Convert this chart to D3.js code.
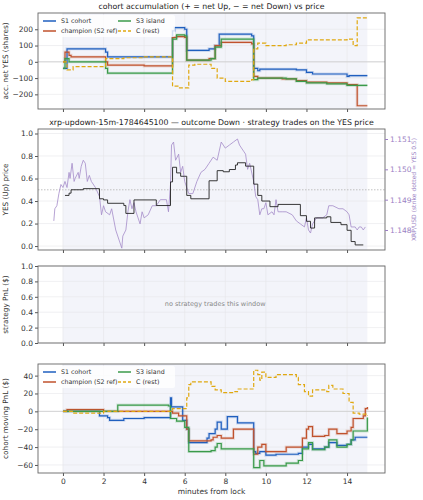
<!DOCTYPE html><html><head><meta charset="utf-8"><script src="https://cdn.jsdelivr.net/npm/d3@7"></script>
<style>body{margin:0;background:#fff}text{font-family:"DejaVu Sans",sans-serif}</style></head><body><svg id="c" width="423" height="500"></svg><script>
const seriesNames=["S1 cohort","champion (S2 ref)","S3 island","C (rest)"];
const colors=["#1f5fbf","#c0522d","#3a9a4a","#e0a810"];
const accS1=[[0,-40],[0.2,80],[2.1,80],[2.1,60],[2.2,30],[5.3,30],[5.4,190],[5.5,210],[6,200],[6.1,70],[7.2,80],[7.5,100],[7.7,170],[9.3,160],[9.4,-40],[9.6,-55],[9.7,-45],[11.5,-50],[12,-65],[12.3,-75],[14,-90],[14.1,-85],[15,-85]];
const accS2=[[0,0],[0.1,60],[0.3,40],[0.4,30],[2,30],[2.1,0],[2.2,-20],[4,-20],[4,-25],[5.3,-25],[5.4,150],[5.6,155],[6,150],[6.1,10],[7.2,20],[7.5,100],[7.8,120],[9.3,110],[9.4,-90],[9.6,-100],[10.8,-105],[11.5,-115],[12,-125],[13,-130],[14,-140],[14.5,-140],[14.5,-270],[15,-270]];
const accS3=[[0,-40],[0.1,20],[0.3,0],[2.1,0],[2.1,-40],[2.2,-70],[5.3,-70],[5.4,140],[5.6,165],[6,160],[6.1,10],[7.3,20],[7.5,90],[7.8,140],[9.3,140],[9.4,-110],[9.6,-100],[11,-105],[11.5,-120],[12,-130],[13,-135],[14,-145],[15,-145]];
const accC=[[0,0],[0.2,-50],[0.5,-30],[2.1,-30],[2.1,20],[3,25],[4,30],[5.3,30],[5.4,-150],[5.7,-160],[6,-160],[6.2,-20],[6.5,-15],[7,-15],[7.3,-40],[7.6,-100],[8,-120],[9.3,-110],[9.4,80],[9.6,115],[10,100],[11,105],[11.5,115],[12,135],[13,135],[14,140],[14.3,100],[14.5,140],[14.5,270],[15,270]];
const yesPrice=[[0.1,0.45],[0.3,0.47],[0.4,0.5],[1,0.51],[1.8,0.51],[1.8,0.42],[2,0.41],[2.2,0.38],[3,0.36],[3.1,0.29],[3.4,0.29],[3.5,0.41],[4.6,0.36],[5.3,0.36],[5.3,0.57],[5.4,0.7],[5.6,0.65],[5.8,0.62],[6,0.62],[6.1,0.45],[6.3,0.42],[7,0.42],[7.2,0.58],[7.6,0.67],[7.9,0.66],[8.2,0.68],[8.5,0.72],[8.6,0.74],[9,0.71],[9.4,0.71],[9.4,0.55],[9.6,0.45],[9.8,0.4],[10,0.4],[10.2,0.35],[10.6,0.37],[11.7,0.37],[11.7,0.27],[12,0.22],[12.2,0.16],[12.4,0.25],[13,0.26],[13.2,0.21],[13.7,0.19],[14,0.14],[14.2,0.04],[14.4,0.01],[14.8,0.01]];
const xrp=[[-0.45,1.1483],[-0.4,1.1487],[-0.3,1.1488],[-0.2,1.1492],[-0.1,1.1495],[0,1.1494],[0.1,1.1496],[0.2,1.1494],[0.3,1.1499],[0.35,1.1497],[0.45,1.1502],[0.55,1.1496],[0.6,1.1497],[0.75,1.1499],[0.8,1.1497],[0.9,1.1501],[1.0,1.1503],[1.1,1.1502],[1.2,1.1496],[1.3,1.1498],[1.4,1.1496],[1.6,1.1494],[1.8,1.1491],[1.9,1.1485],[2.0,1.1488],[2.1,1.1486],[2.3,1.1485],[2.4,1.1487],[2.6,1.148],[2.7,1.1478],[2.8,1.1476],[2.9,1.1474],[2.95,1.1478],[3.1,1.148],[3.2,1.1486],[3.3,1.149],[3.4,1.1487],[3.5,1.1489],[3.6,1.1486],[3.7,1.1484],[3.8,1.1482],[3.9,1.1486],[4.0,1.1484],[4.2,1.1485],[4.4,1.1488],[4.6,1.1488],[4.8,1.149],[5.1,1.149],[5.2,1.1486],[5.3,1.1495],[5.35,1.1508],[5.45,1.1509],[5.55,1.1503],[5.7,1.1505],[5.8,1.1499],[5.9,1.1501],[6.0,1.1496],[6.1,1.1494],[6.2,1.1492],[6.4,1.1492],[6.6,1.1496],[6.8,1.1499],[7.0,1.15],[7.2,1.1502],[7.4,1.1504],[7.6,1.1503],[7.7,1.1506],[7.8,1.1509],[8.0,1.1507],[8.2,1.1508],[8.4,1.1509],[8.6,1.151],[8.7,1.1508],[8.9,1.1506],[9.0,1.1505],[9.1,1.15],[9.2,1.1502],[9.4,1.1496],[9.5,1.1491],[9.6,1.149],[9.7,1.1485],[9.8,1.1487],[9.9,1.1487],[10.0,1.1489],[10.1,1.1485],[10.3,1.1486],[10.4,1.1485],[10.5,1.149],[10.6,1.1486],[10.8,1.1486],[11.0,1.1486],[11.3,1.1485],[11.5,1.1483],[11.7,1.1482],[11.9,1.1481],[12.0,1.1484],[12.1,1.148],[12.2,1.1479],[12.3,1.1482],[12.5,1.1484],[12.8,1.1484],[13.0,1.1485],[13.1,1.1488],[13.3,1.1488],[13.6,1.1487],[13.8,1.1487],[14.0,1.1486],[14.1,1.1485],[14.2,1.1481],[14.4,1.1481],[14.5,1.148],[14.6,1.1481],[14.7,1.1481],[14.8,1.148],[14.9,1.1481]];
const pnlS1=[[0,0],[1.7,0],[1.8,-5],[2.2,-7],[2.3,-10],[3,-8],[4,-7],[5.2,-7],[5.3,15],[5.35,5],[5.7,5],[5.9,-10],[6.1,-20],[6.2,-35],[7.1,-30],[7.2,-25],[7.5,-20],[7.6,-12],[7.8,-20],[8.1,-20],[8.1,-6],[8.6,-6],[8.6,-13],[9.3,-13],[9.4,-45],[9.5,-47],[9.7,-45],[10,-49],[10.5,-48],[11.6,-47],[11.8,-40],[12.1,-37],[12.3,-42],[12.9,-40],[13.1,-35],[13.5,-38],[14,-37],[14.2,-32],[14.4,-29],[15,-29]];
const pnlS2=[[0,0],[0.2,2],[1.8,2],[2,0],[5.3,0],[5.4,-2],[5.7,-5],[6.1,-20],[6.2,-33],[7.3,-32],[7.4,-29],[7.6,-27],[7.8,-30],[8.4,-20],[9.3,-20],[9.4,-48],[9.6,-40],[9.8,-37],[10,-45],[11,-40],[11.7,-40],[11.8,-30],[12,-20],[12.1,-17],[12.3,-28],[12.9,-27],[13.1,-20],[13.5,-25],[14,-22],[14.2,-18],[14.3,-8],[14.8,-5],[14.9,3],[15,5]];
const pnlS3=[[0,0],[2.6,0],[2.7,7],[5.2,6],[5.3,-8],[5.6,-11],[6,-18],[6.2,-45],[7.3,-44],[7.5,-40],[7.6,-36],[7.8,-42],[9.3,-42],[9.4,-63],[9.7,-55],[9.9,-61],[11,-58],[11.6,-55],[11.8,-42],[12.1,-35],[12.3,-43],[12.9,-40],[13.1,-32],[13.5,-40],[14,-37],[14.2,-32],[14.3,-22],[15,-21],[15,-7]];
const pnlC=[[0,0],[0.5,-2],[2,0],[5.2,0],[5.4,3],[5.8,3],[6.1,15],[6.2,30],[6.3,33],[7.3,28],[7.5,24],[7.8,21],[8.4,22],[8.6,25],[9.3,25],[9.4,46],[9.6,41],[9.7,35],[9.8,44],[10,38],[10.5,41],[11.5,38],[11.6,30],[11.9,22],[12.1,17],[12.3,24],[13,22],[13.1,29],[13.3,25],[13.8,20],[14.1,10],[14.3,-2],[14.6,-3],[15,-5]];
const xTicks=[0,2,4,6,8,10,12,14];

const svg=d3.select("#c");
const L=38,R=385;
const x=d3.scaleLinear().domain([-1.23,15.87]).range([L,R]);
const fs=7.5, tc="#333";
function panel(top,bot,ydom,yticks,fmt,ylabel,title,showX){
  const y=d3.scaleLinear().domain(ydom).range([bot,top]);
  const g=svg.append("g");
  g.append("rect").attr("x",x(0)).attr("y",top).attr("width",x(15)-x(0)).attr("height",bot-top).attr("fill","#f3f4fa");
  xTicks.forEach(t=>g.append("line").attr("x1",x(t)).attr("x2",x(t)).attr("y1",top).attr("y2",bot).attr("stroke","#e6e6ea").attr("stroke-width",0.6));
  yticks.forEach(t=>g.append("line").attr("x1",L).attr("x2",R).attr("y1",y(t)).attr("y2",y(t)).attr("stroke","#e6e6ea").attr("stroke-width",0.6));
  g.append("g").attr("transform",`translate(${L},0)`).call(d3.axisLeft(y).tickValues(yticks).tickFormat(fmt).tickSize(3).tickPadding(2)).call(a=>{a.select(".domain").remove();a.selectAll("text").attr("font-size",fs).attr("fill",tc);a.selectAll("line").attr("stroke","#555");});
  g.append("g").attr("transform",`translate(0,${bot})`).call(d3.axisBottom(x).tickValues(xTicks).tickFormat(showX?d3.format("d"):"").tickSize(3)).call(a=>{a.select(".domain").remove();a.selectAll("text").attr("font-size",fs).attr("fill",tc);a.selectAll("line").attr("stroke","#555");});
  if(ylabel) svg.append("text").attr("transform",`translate(8,${(top+bot)/2}) rotate(-90)`).attr("text-anchor","middle").attr("font-size",7.3).attr("fill",tc).text(ylabel);
  if(title) svg.append("text").attr("x",(L+R)/2).attr("y",top-4).attr("text-anchor","middle").attr("font-size",7.8).attr("fill","#222").text(title);
  return {y,g,top,bot};
}
function frame(p){p.g.append("rect").attr("x",L).attr("y",p.top).attr("width",R-L).attr("height",p.bot-p.top).attr("fill","none").attr("stroke","#666").attr("stroke-width",0.9);}
function stepLine(p,data,color,dash,yS){
  const ys=yS||p.y;
  const ln=d3.line().x(d=>x(d[0])).y(d=>ys(d[1])).curve(d3.curveStepAfter);
  if(!dash) p.g.append("path").datum(data).attr("d",ln).attr("fill","none").attr("stroke",color).attr("stroke-opacity",0.18).attr("stroke-width",3);
  p.g.append("path").datum(data).attr("d",ln).attr("fill","none").attr("stroke",color).attr("stroke-width",1.2).attr("stroke-dasharray",dash?"4,2":null);
}
function legend(p){
  const pos=[[43,p.top+8],[43,p.top+18],[118,p.top+8],[118,p.top+18]];
  p.g.append("rect").attr("x",40).attr("y",p.top+2).attr("width",135).attr("height",22).attr("fill","#fff").attr("fill-opacity",0.8).attr("rx",2);
  [0,1,2,3].forEach(i=>{const [lx,ly]=pos[i];
    p.g.append("line").attr("x1",lx).attr("x2",lx+13).attr("y1",ly).attr("y2",ly).attr("stroke",colors[i]).attr("stroke-width",1.5).attr("stroke-dasharray",i==3?"3,2":null);
    p.g.append("text").attr("x",lx+18).attr("y",ly+2.3).attr("font-size",6.3).attr("fill",tc).text(seriesNames[i]);});
}
// panel 1
const p1=panel(13,109,[-290,300],[-200,-100,0,100,200],d3.format("d"),"acc. net YES (shares)","cohort accumulation (+ = net Up, − = net Down) vs price",false);
p1.g.append("line").attr("x1",L).attr("x2",R).attr("y1",p1.y(0)).attr("y2",p1.y(0)).attr("stroke","#ccc").attr("stroke-width",0.8);
[accS1,accS2,accS3].forEach((d,i)=>stepLine(p1,d,colors[i]));
stepLine(p1,accC,colors[3],true);
legend(p1);frame(p1);
// panel 2
const p2=panel(129,250,[-0.035,1.04],[0,0.2,0.4,0.6,0.8,1.0],d3.format(".1f"),"YES (Up) price","xrp-updown-15m-1784645100 — outcome Down · strategy trades on the YES price",false);
const y2r=d3.scaleLinear().domain([1.14734,1.15133]).range([250,129]);
p2.g.append("line").attr("x1",L).attr("x2",R).attr("y1",p2.y(0.5)).attr("y2",p2.y(0.5)).attr("stroke","#bbb").attr("stroke-dasharray","1.5,1.5").attr("stroke-width",0.9);
p2.g.append("path").datum(xrp).attr("d",d3.line().x(d=>x(d[0])).y(d=>y2r(d[1]))).attr("fill","none").attr("stroke","#a58cc9").attr("stroke-opacity",0.8).attr("stroke-width",1);
p2.g.append("path").datum(yesPrice).attr("d",d3.line().x(d=>x(d[0])).y(d=>p2.y(d[1])).curve(d3.curveStepAfter)).attr("fill","none").attr("stroke","#222").attr("stroke-width",0.9);
svg.append("g").attr("transform",`translate(${R},0)`).call(d3.axisRight(y2r).tickValues([1.148,1.149,1.15,1.151]).tickFormat(d3.format(".3f")).tickSize(3).tickPadding(2)).call(a=>{a.select(".domain").remove();a.selectAll("text").attr("font-size",fs).attr("fill","#9b7fc4");a.selectAll("line").attr("stroke","#9b7fc4");});
svg.append("text").attr("transform",`translate(416,${(129+250)/2}) rotate(-90)`).attr("text-anchor","middle").attr("font-size",6).attr("fill","#9b7fc4").text("XRP/USD (strike dotted = YES 0.5)");
frame(p2);
// panel 3
const p3=panel(266,343,[0,1],[0,0.2,0.4,0.6,0.8,1.0],d3.format(".1f"),"strategy PnL ($)",null,false);
p3.g.append("text").attr("x",x(7.5)).attr("y",306).attr("text-anchor","middle").attr("font-size",6.5).attr("fill","#888").text("no strategy trades this window");
frame(p3);
// panel 4
const p4=panel(364,473,[-69,53],[-60,-40,-20,0,20,40],d3.format("d"),"cohort moving PnL ($)",null,true);
p4.g.append("line").attr("x1",L).attr("x2",R).attr("y1",p4.y(0)).attr("y2",p4.y(0)).attr("stroke","#ccc").attr("stroke-width",0.8);
[pnlS1,pnlS2,pnlS3].forEach((d,i)=>stepLine(p4,d,colors[i]));
stepLine(p4,pnlC,colors[3],true);
legend(p4);frame(p4);
svg.append("text").attr("x",(L+R)/2).attr("y",494).attr("text-anchor","middle").attr("font-size",fs).attr("fill",tc).text("minutes from lock");
</script></body></html>
